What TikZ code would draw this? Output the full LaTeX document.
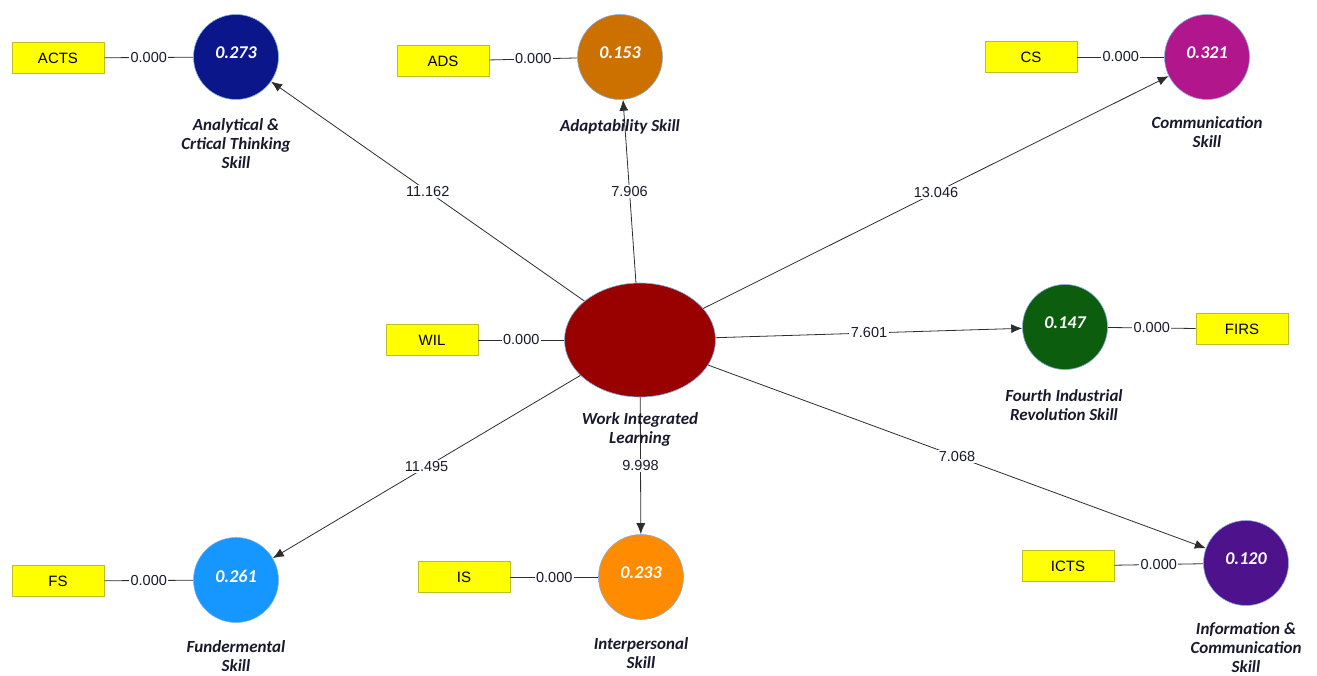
\documentclass[tikz,border=0pt]{standalone}
\usepackage{fontspec}
\setmainfont{Carlito}
\newfontfamily\uifont{Liberation Sans}
\usetikzlibrary{shapes.geometric,arrows.meta}

\definecolor{cborder}{RGB}{130,175,225}
\definecolor{ybox}{RGB}{255,255,0}
\definecolor{yborder}{RGB}{190,190,40}
\definecolor{nametxt}{RGB}{25,25,45}
\definecolor{linegray}{RGB}{45,45,45}
\definecolor{actscol}{RGB}{10,22,138}
\definecolor{adscol}{RGB}{204,112,0}
\definecolor{cscol}{RGB}{178,22,140}
\definecolor{wilcol}{RGB}{153,0,0}
\definecolor{firscol}{RGB}{12,94,14}
\definecolor{fscol}{RGB}{22,150,255}
\definecolor{iscol}{RGB}{255,140,0}
\definecolor{ictscol}{RGB}{78,18,140}

\begin{document}
\begin{tikzpicture}[x=1pt, y=-1pt,
  -{Latex[length=11pt,width=9pt]}, line width=0.8pt, draw=linegray,
  lv/.style     = { circle, draw=cborder, line width=0.6pt, minimum size=85pt,
                    inner sep=0pt, text=white, text depth=8pt,
                    font=\fontsize{18}{21}\selectfont\bfseries\itshape },
  ind/.style    = { rectangle, draw=yborder, fill=ybox, line width=0.6pt,
                    minimum width=92pt, minimum height=31pt,
                    font=\uifont\fontsize{15}{17}\selectfont },
  lvname/.style = { align=center, text=nametxt,
                    font=\fontsize{17}{19}\selectfont\bfseries\itshape },
  coef/.style   = { fill=white, inner sep=1.5pt, text=nametxt,
                    font=\uifont\fontsize{14.5}{17}\selectfont }]
  \useasboundingbox (0,0) rectangle (1317,675);

  % latent variables
  \node [ellipse, draw=cborder, line width=0.6pt, fill=wilcol,
         minimum width=151pt, minimum height=114pt] (wil) at (640,340) {};
  \node [lv, fill=actscol] (acts) at (236,57)  {0.273};
  \node [lv, fill=adscol]  (ads)  at (620,57)  {0.153};
  \node [lv, fill=cscol]   (cs)   at (1207,57) {0.321};
  \node [lv, fill=firscol] (firs) at (1065,327) {0.147};
  \node [lv, fill=fscol]   (fs)   at (236,580) {0.261};
  \node [lv, fill=iscol]   (is)   at (641,577) {0.233};
  \node [lv, fill=ictscol] (icts) at (1246,563) {0.120};

  % indicators
  \node [ind] (acts-ind) at (58,58)    {ACTS};
  \node [ind] (ads-ind)  at (443,61)   {ADS};
  \node [ind] (cs-ind)   at (1031,57)  {CS};
  \node [ind] (wil-ind)  at (432,340)  {WIL};
  \node [ind] (firs-ind) at (1242,329) {FIRS};
  \node [ind] (fs-ind)   at (58,581)   {FS};
  \node [ind] (is-ind)   at (464,577)  {IS};
  \node [ind] (icts-ind) at (1068,566) {ICTS};

  \foreach \lv in {acts,ads,cs,wil,firs,fs,is,icts} {
    \path (\lv-ind) edge [-] node [coef] {0.000} (\lv);
  }

  % path coefficients
  \foreach \lv/\val in {acts/11.162, ads/7.906, cs/13.046, firs/7.601,
                        icts/7.068, is/9.998, fs/11.495} {
    \path (wil) edge node [coef] {\val} (\lv);
  }

  % names
  \node [lvname] (acts-name) at (236,144)   {Analytical \&\\Crtical Thinking\\Skill};
  \node [lvname] (ads-name)  at (620,127)   {Adaptability Skill};
  \node [lvname] (cs-name)   at (1207,132)  {Communication\\Skill};
  \node [lvname] (wil-name)  at (640,429)   {Work Integrated\\Learning};
  \node [lvname] (firs-name) at (1064,405)  {Fourth Industrial\\Revolution Skill};
  \node [lvname] (fs-name)   at (236,656)   {Fundermental\\Skill};
  \node [lvname] (is-name)   at (641,653)   {Interpersonal\\Skill};
  \node [lvname] (icts-name) at (1246,648)  {Information \&\\Communication\\Skill};
\end{tikzpicture}
\end{document}
